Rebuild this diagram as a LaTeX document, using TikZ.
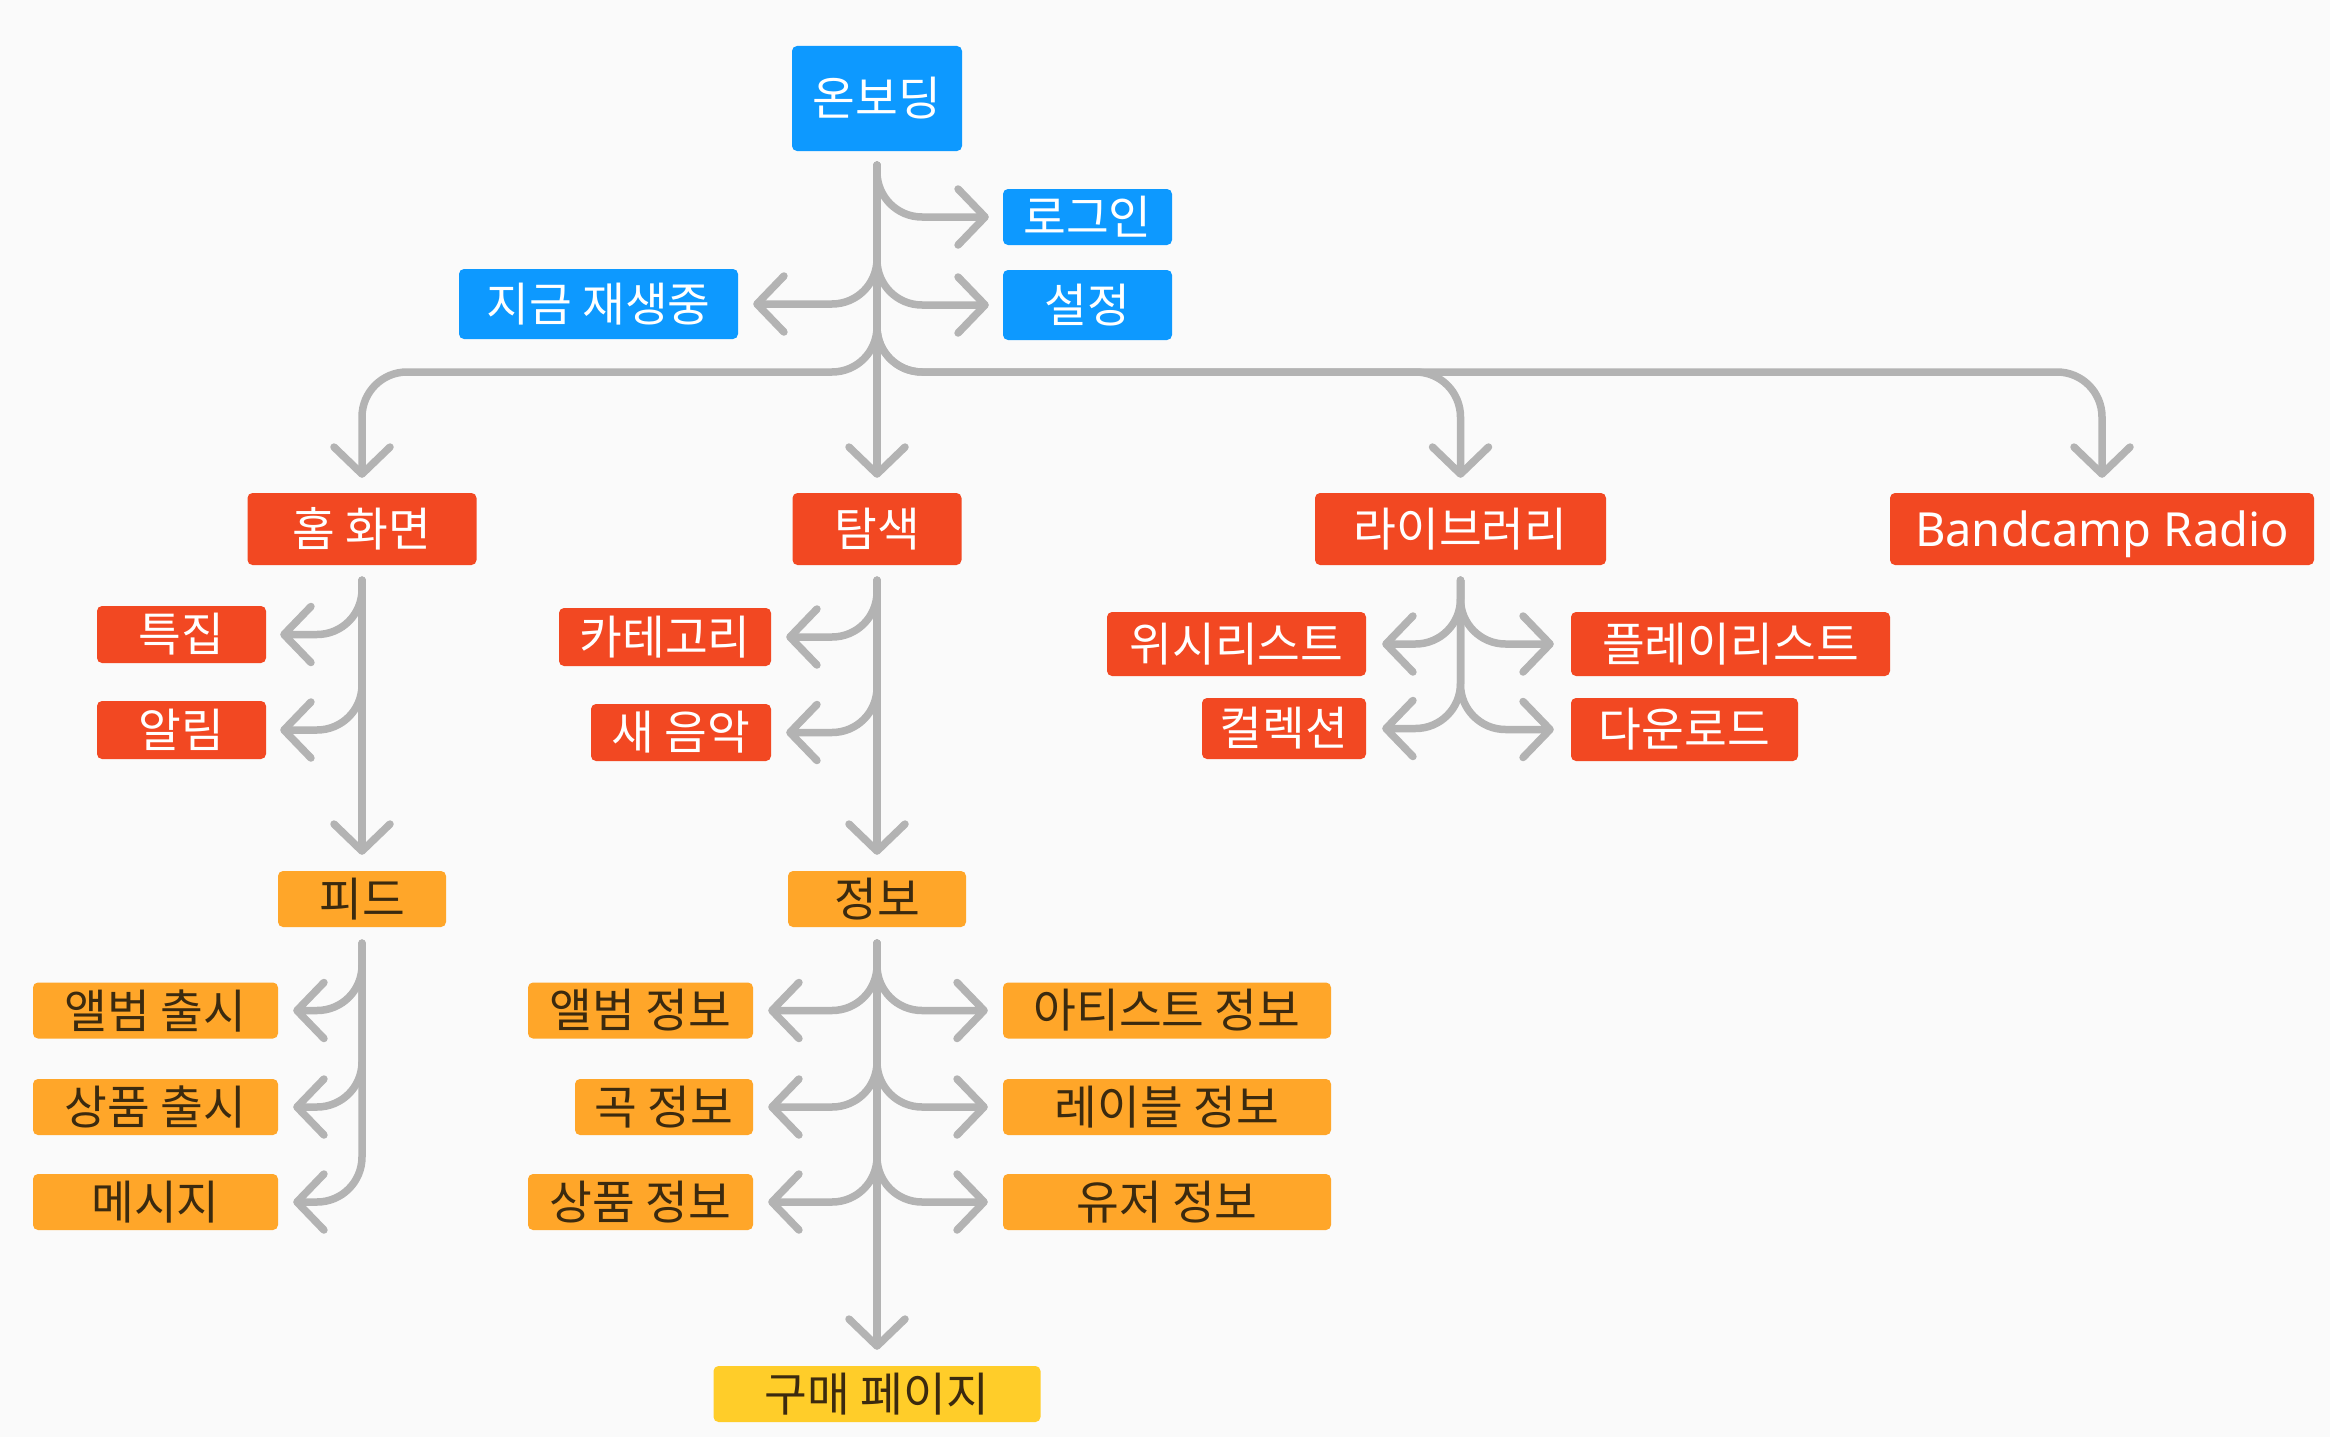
\documentclass[tikz,border=0pt]{standalone}
\usepackage{fontspec}
\setmainfont{Noto Sans CJK KR}
\newfontfamily\latinfont{Noto Sans}
\usetikzlibrary{arrows.meta,calc}
\definecolor{bgc}{HTML}{FAFAFA}
\definecolor{cblue}{HTML}{0D99FF}
\definecolor{cred}{HTML}{F24822}
\definecolor{corange}{HTML}{FFA629}
\definecolor{cyellow}{HTML}{FFCD29}
\definecolor{ctext}{HTML}{3B2A0F}
\definecolor{cline}{HTML}{B3B3B3}
\tikzset{
 box/.style={rectangle, rounded corners=5pt, inner sep=0pt, minimum height=56pt, font=\fontsize{46.5}{54}\selectfont},
 bluebox/.style={box, fill=cblue, text=white},
 redbox/.style={box, fill=cred, text=white},
 orangebox/.style={box, fill=corange, text=ctext},
 yellowbox/.style={box, fill=cyellow, text=ctext},
 conn/.style={draw=cline, line width=7.5pt, rounded corners=45pt, line cap=round, line join=round, -{Straight Barb[length=27pt,width=56pt,round]}},
}
\begin{document}
\begin{tikzpicture}[x=1pt,y=-1pt]
\fill[bgc] (0,0) rectangle (2330,1437);
\useasboundingbox (0,0) rectangle (2330,1437);
% blue
\node[bluebox, minimum width=170pt, minimum height=105pt] (onb) at (877,98.5) {온보딩};
\node[bluebox, minimum width=169pt, minimum height=56pt] (login) at (1087.5,217) {로그인};
\node[bluebox, minimum width=169pt, minimum height=70pt] (set) at (1087.5,305) {설정};
\node[bluebox, minimum width=279pt, minimum height=70pt] (now) at (598.5,304) {지금 재생중};
% red
\node[redbox, minimum width=229pt, minimum height=72pt] (home) at (362,529) {홈 화면};
\node[redbox, minimum width=169pt, minimum height=72pt] (expl) at (877,529) {탐색};
\node[redbox, minimum width=291pt, minimum height=72pt] (lib) at (1460.5,529) {라이브러리};
\node[redbox, minimum width=424pt, minimum height=72pt, text depth=0pt, font=\latinfont\fontsize{47}{56}\selectfont] (radio) at (2102,529) {Bandcamp Radio};
\node[redbox, minimum width=169pt, minimum height=57pt] (feat) at (181.5,634.5) {특집};
\node[redbox, minimum width=169pt, minimum height=58pt] (alert) at (181.5,730) {알림};
\node[redbox, minimum width=212pt, minimum height=58pt] (cat) at (665,637) {카테고리};
\node[redbox, minimum width=180pt, minimum height=57pt] (newm) at (681,732.5) {새 음악};
\node[redbox, minimum width=259pt, minimum height=64pt] (wish) at (1236.5,644) {위시리스트};
\node[redbox, minimum width=164pt, minimum height=61pt] (coll) at (1284,728.5) {컬렉션};
\node[redbox, minimum width=319pt, minimum height=64pt] (play) at (1730.5,644) {플레이리스트};
\node[redbox, minimum width=227pt, minimum height=63pt] (down) at (1684.5,729.5) {다운로드};
% orange
\node[orangebox, minimum width=168pt] (feed) at (362,899) {피드};
\node[orangebox, minimum width=178pt] (info) at (877,899) {정보};
\node[orangebox, minimum width=245pt] (alb) at (155.5,1010.5) {앨범 출시};
\node[orangebox, minimum width=245pt] (merch) at (155.5,1107) {상품 출시};
\node[orangebox, minimum width=245pt] (msg) at (155.5,1202) {메시지};
\node[orangebox, minimum width=225pt] (albi) at (640.5,1010.5) {앨범 정보};
\node[orangebox, minimum width=178pt] (song) at (664,1107) {곡 정보};
\node[orangebox, minimum width=225pt] (merchi) at (640.5,1202) {상품 정보};
\node[orangebox, minimum width=328pt] (art) at (1167,1010.5) {아티스트 정보};
\node[orangebox, minimum width=328pt] (label) at (1167,1107) {레이블 정보};
\node[orangebox, minimum width=328pt] (user) at (1167,1202) {유저 정보};
\node[yellowbox, minimum width=327pt] (buy) at (877,1394) {구매 페이지};
% connectors: onboarding
\coordinate (s0) at ($(onb.south)+(0,14)$);
\coordinate (bus) at (0,372);
\draw[conn] (s0) -- ($(expl.north)+(0,-15)$);
\draw[conn] (s0) |- ($(login.west)+(-14,0)$);
\draw[conn] (s0) |- ($(set.west)+(-14,0)$);
\draw[conn] (s0) |- ($(now.east)+(15,0)$);
\draw[conn] (s0) |- (bus -| home.north) -- ($(home.north)+(0,-15)$);
\draw[conn] (s0) |- (bus -| lib.north) -- ($(lib.north)+(0,-15)$);
\draw[conn] (s0) |- (bus -| radio.north) -- ($(radio.north)+(0,-15)$);
% home
\coordinate (h0) at ($(home.south)+(0,15)$);
\draw[conn] (h0) -- ($(feed.north)+(0,-16)$);
\draw[conn] (h0) |- ($(feat.east)+(14,0)$);
\draw[conn] (h0) |- ($(alert.east)+(14,0)$);
% explore
\coordinate (e0) at ($(expl.south)+(0,15)$);
\draw[conn] (e0) -- ($(info.north)+(0,-16)$);
\draw[conn] (e0) |- ($(cat.east)+(15,0)$);
\draw[conn] (e0) |- ($(newm.east)+(15,0)$);
% library
\coordinate (l0) at ($(lib.south)+(0,15)$);
\draw[conn] (l0) |- ($(wish.east)+(16,0)$);
\draw[conn] (l0) |- ($(coll.east)+(16,0)$);
\draw[conn] (l0) |- ($(play.west)+(-17,0)$);
\draw[conn] (l0) |- ($(down.west)+(-17,0)$);
% feed
\coordinate (f0) at ($(feed.south)+(0,16)$);
\draw[conn] (f0) |- ($(alb.east)+(15,0)$);
\draw[conn] (f0) |- ($(merch.east)+(15,0)$);
\draw[conn] (f0) |- ($(msg.east)+(15,0)$);
% info
\coordinate (i0) at ($(info.south)+(0,16)$);
\draw[conn] (i0) -- ($(buy.north)+(0,-16)$);
\draw[conn] (i0) |- ($(albi.east)+(15,0)$);
\draw[conn] (i0) |- ($(song.east)+(15,0)$);
\draw[conn] (i0) |- ($(merchi.east)+(15,0)$);
\draw[conn] (i0) |- ($(art.west)+(-15,0)$);
\draw[conn] (i0) |- ($(label.west)+(-15,0)$);
\draw[conn] (i0) |- ($(user.west)+(-15,0)$);
\end{tikzpicture}
\end{document}
